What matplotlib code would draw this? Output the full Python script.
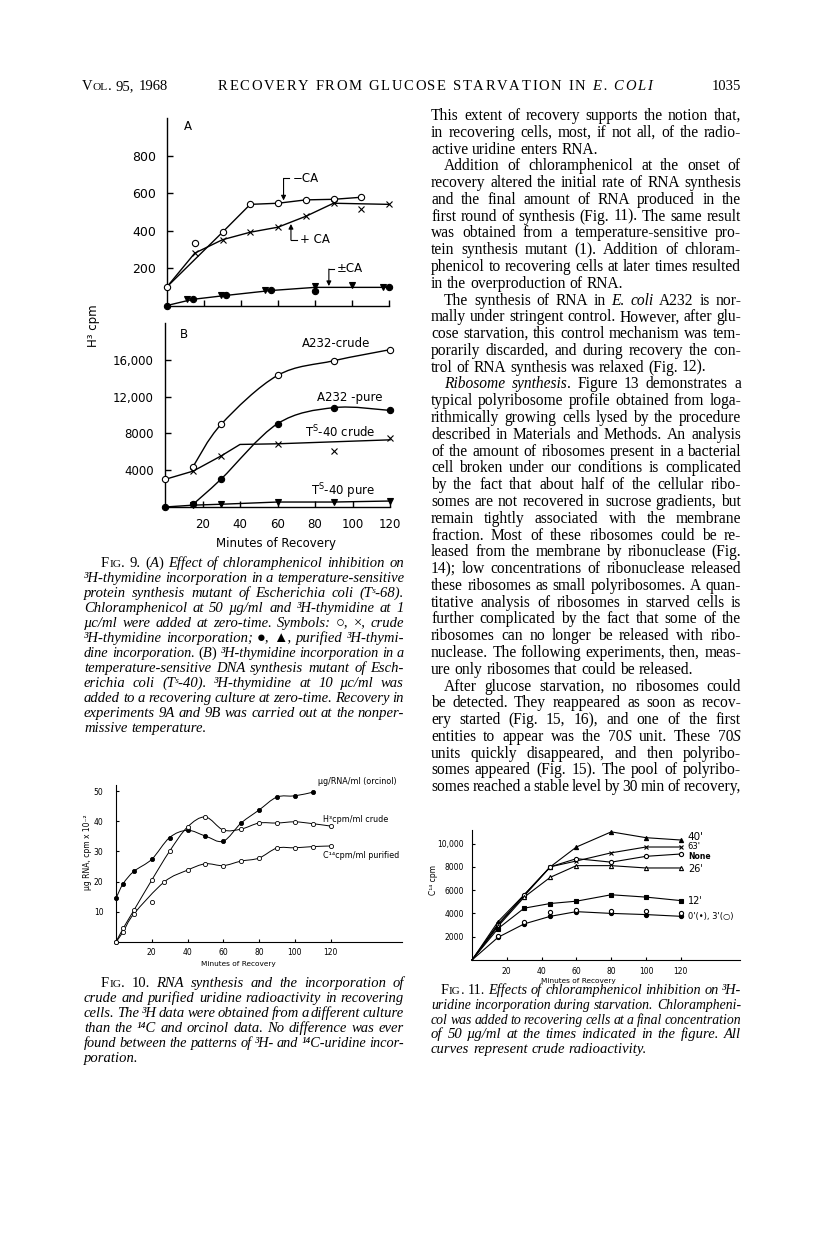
import matplotlib
matplotlib.use('Agg')
import matplotlib.pyplot as plt
from matplotlib.path import Path
from matplotlib.patches import PathPatch
import numpy as np

plt.rcParams['font.family'] = ['DejaVu Sans']
plt.rcParams['mathtext.default'] = 'regular'

# ---------------- DATA ----------------
# Fig. 9A  (H3 cpm vs minutes)
a_minus_line_x = [0, 30, 45, 60, 75, 90, 105]
a_minus_line_y = [100, 392, 541, 547, 565, 568, 579]
a_minus_pts_x = [0, 15, 30, 45, 60, 75, 90, 105]
a_minus_pts_y = [100, 333, 392, 541, 547, 565, 568, 579]
a_plus_line_x = [0, 15, 30, 45, 60, 75, 90, 120]
a_plus_line_y = [100, 280, 352, 392, 419, 477, 547, 541]
a_plus_pts_x = [15, 30, 45, 60, 75, 90, 105, 120]
a_plus_pts_y = [280, 352, 392, 419, 477, 547, 514, 541]
a_pm_line_x = [0, 14, 32, 56, 80, 120]
a_pm_line_y = [0, 33, 54, 80, 97, 97]
a_pm_circ_x = [0, 14, 32, 56, 80, 120]
a_pm_circ_y = [0, 35, 56, 83, 77, 98]
a_pm_tri_x = [11, 29, 53, 80, 100, 117]
a_pm_tri_y = [35, 56, 83, 104, 109, 98]
a_yticks = [200, 400, 600, 800]
minute_ticks = [20, 40, 60, 80, 100, 120]

# Fig. 9B
b_minutes = [0, 15, 30, 60, 90, 120]
b_a232_crude = [3000, 4400, 9000, 14300, 15900, 17100]
b_a232_pure = [0, 300, 3050, 9050, 10800, 10500]
b_ts40_crude = [3000, 3900, 5560, 6870, 6100, 7500]
b_ts40_crude_line_x = [0, 15, 30, 40, 60, 120]
b_ts40_crude_line_y = [3000, 3900, 5560, 6800, 6870, 7300]
b_ts40_pure = [0, 200, 300, 540, 540, 650]
b_yticks = [4000, 8000, 12000, 16000]
b_yticklabels = ['4000', '8000', '12,000', '16,000']

# Fig. 10
f10_orc_x = [0, 4, 10, 20, 30, 40, 50, 60, 70, 80, 90, 100, 110]
f10_orc_y = [14.5, 19.3, 23.4, 27.4, 34.6, 37.0, 35.1, 33.4, 39.4, 43.7, 48.0, 48.4, 49.6]
f10_h3_x = [0, 4, 10, 20, 30, 40, 50, 60, 70, 80, 90, 100, 110, 120]
f10_h3_y = [0, 4.5, 10.5, 20.5, 30.1, 38.1, 41.4, 37.1, 37.4, 39.4, 39.4, 39.8, 39.2, 38.4]
f10_c14_x = [0, 4, 10, 20, 27, 40, 50, 60, 70, 80, 90, 100, 110, 120]
f10_c14_y = [0, 3.4, 9.3, 13.2, 19.9, 23.8, 25.9, 25.3, 26.8, 27.8, 31.1, 31.2, 31.6, 31.8]
f10_yticks = [10, 20, 30, 40, 50]

# Fig. 11
f11_min = [0, 15, 30, 45, 60, 80, 100, 120]
f11_40 = [0, 3300, 5600, 8000, 9700, 11000, 10500, 10300]
f11_63 = [0, 3100, 5500, 8000, 8500, 9200, 9700, 9700]
f11_none = [0, 3000, 5600, 8000, 8700, 8400, 8900, 9100]
f11_26 = [0, 2900, 5400, 7100, 8100, 8100, 7900, 7900]
f11_12 = [0, 2700, 4450, 4850, 5050, 5600, 5400, 5100]
f11_0 = [0, 1950, 3100, 3750, 4150, 4000, 3900, 3750]
f11_3 = [0, 2100, 3300, 4100, 4300, 4200, 4200, 4000]
f11_yticks = [2000, 4000, 6000, 8000, 10000]
f11_yticklabels = ['2000', '4000', '6000', '8000', '10,000']

# ---------------- TEXT ----------------
body_lines = [
    "This extent of recovery supports the notion that,",
    "in recovering cells, most, if not all, of the radio-",
    "active uridine enters RNA.<",
    ">Addition of chloramphenicol at the onset of",
    "recovery altered the initial rate of RNA synthesis",
    "and the final amount of RNA produced in the",
    "first round of synthesis (Fig. 11). The same result",
    "was obtained from a temperature-sensitive pro-",
    "tein synthesis mutant (1). Addition of chloram-",
    "phenicol to recovering cells at later times resulted",
    "in the overproduction of RNA.<",
    ">The synthesis of RNA in *E. coli* A232 is nor-",
    "mally under stringent control. However, after glu-",
    "cose starvation, this control mechanism was tem-",
    "porarily discarded, and during recovery the con-",
    "trol of RNA synthesis was relaxed (Fig. 12).<",
    ">*Ribosome synthesis*. Figure 13 demonstrates a",
    "typical polyribosome profile obtained from loga-",
    "rithmically growing cells lysed by the procedure",
    "described in Materials and Methods. An analysis",
    "of the amount of ribosomes present in a bacterial",
    "cell broken under our conditions is complicated",
    "by the fact that about half of the cellular ribo-",
    "somes are not recovered in sucrose gradients, but",
    "remain tightly associated with the membrane",
    "fraction. Most of these ribosomes could be re-",
    "leased from the membrane by ribonuclease (Fig.",
    "14); low concentrations of ribonuclease released",
    "these ribosomes as small polyribosomes. A quan-",
    "titative analysis of ribosomes in starved cells is",
    "further complicated by the fact that some of the",
    "ribosomes can no longer be released with ribo-",
    "nuclease. The following experiments, then, meas-",
    "ure only ribosomes that could be released.<",
    ">After glucose starvation, no ribosomes could",
    "be detected. They reappeared as soon as recov-",
    "ery started (Fig. 15, 16), and one of the first",
    "entities to appear was the 70*S* unit. These 70*S*",
    "units quickly disappeared, and then polyribo-",
    "somes appeared (Fig. 15). The pool of polyribo-",
    "somes reached a stable level by 30 min of recovery,",
]

cap9_lines = [
    ">*F#IG#. 9. (*A*)* Effect of chloramphenicol inhibition on",
    "³H-thymidine incorporation in a temperature-sensitive",
    "protein synthesis mutant of Escherichia coli (Tˢ-68).",
    "Chloramphenicol at 50 µg/ml and ³H-thymidine at 1",
    "µc/ml were added at zero-time. Symbols: *○, ×,* crude",
    "³H-thymidine incorporation; *●, ▲,* purified ³H-thymi-",
    "dine incorporation. *(*B*)* ³H-thymidine incorporation in a",
    "temperature-sensitive DNA synthesis mutant of Esch-",
    "erichia coli (Tˢ-40). ³H-thymidine at 10 µc/ml was",
    "added to a recovering culture at zero-time. Recovery in",
    "experiments 9A and 9B was carried out at the nonper-",
    "missive temperature.<",
]
cap10_lines = [
    ">*F#IG#. 10.* RNA synthesis and the incorporation of",
    "crude and purified uridine radioactivity in recovering",
    "cells. The ³H data were obtained from a different culture",
    "than the ¹⁴C and orcinol data. No difference was ever",
    "found between the patterns of ³H- and ¹⁴C-uridine incor-",
    "poration.<",
]
cap11_lines = [
    ">*F#IG#. 11.* Effects of chloramphenicol inhibition on ³H-",
    "uridine incorporation during starvation. Chlorampheni-",
    "col was added to recovering cells at a final concentration",
    "of 50 µg/ml at the times indicated in the figure. All",
    "curves represent crude radioactivity.<",
]

# ---------------- SETUP ----------------
W, H = 816, 1260
fig = plt.figure(figsize=(8.16, 12.6), dpi=100)
fig.patch.set_facecolor('white')
renderer = fig.canvas.get_renderer()
SERIF = ['Liberation Serif', 'DejaVu Serif']
SANS = ['DejaVu Sans']


def fy(py):
    return 1 - py / H


def add_ax(x0, y0, x1, y1):
    return fig.add_axes([x0 / W, 1 - y1 / H, (x1 - x0) / W, (y1 - y0) / H])


def parse_line(line, italic0):
    words, cur, buf = [], [], ''
    it, sm = italic0, False
    for ch in line:
        if ch in '*#':
            if buf:
                cur.append((buf, it, sm)); buf = ''
            if ch == '*':
                it = not it
            else:
                sm = not sm
        elif ch == ' ':
            if buf:
                cur.append((buf, it, sm)); buf = ''
            if cur:
                words.append(cur); cur = []
        else:
            buf += ch
    if buf:
        cur.append((buf, it, sm))
    if cur:
        words.append(cur)
    return words


def pw(txt, size, it):
    t = fig.text(0, 0, txt, fontsize=size, family=SERIF, style='italic' if it else 'normal')
    w = t.get_window_extent(renderer).width
    t.remove()
    return w


def draw_line(line, x0, x1, y, size, italic0=False, indent=0.0):
    justify = True
    if line.startswith('>'):
        line = line[1:]
    else:
        indent = 0.0
    if line.endswith('<'):
        line = line[:-1]
        justify = False
    words = parse_line(line, italic0)
    s0 = size
    for _ in range(12):
        widths = [[pw(t, s0 * (0.78 if sm else 1), it) for (t, it, sm) in w] for w in words]
        total = sum(sum(ws) for ws in widths)
        n = len(words)
        em = s0 * 100 / 72
        if justify and n > 1:
            gap = (x1 - x0 - indent - total) / (n - 1)
            if gap < 0.16 * em:
                s0 *= 0.98
                continue
        else:
            gap = 0.25 * em
        break
    x = x0 + indent
    for w, ws in zip(words, widths):
        for (t, it, sm), wv in zip(w, ws):
            fig.text(x / W, fy(y + 4), t, fontsize=s0 * (0.78 if sm else 1), family=SERIF,
                     style='italic' if it else 'normal', va='baseline', ha='left')
            x += wv
        x += gap


def draw_tracked(segments, x0, x1, y, size):
    """Letter-spaced line: segments = [(text, italic), ...] spread from x0 to x1."""
    chars = []
    sp = pw('a a', size, False) - pw('aa', size, False)
    for txt, it in segments:
        for ch in txt:
            chars.append((ch, it, sp if ch == ' ' else pw(ch, size, it)))
    total = sum(c[2] for c in chars)
    extra = (x1 - x0 - total) / (len(chars) - 1)
    x = x0
    for ch, it, wv in chars:
        if ch != ' ':
            fig.text(x / W, fy(y + 4), ch, fontsize=size, family=SERIF,
                     style='italic' if it else 'normal', va='baseline', ha='left')
        x += wv + extra


def text_px(x, y, s, size, ha='left', va='center', rot=0, family=None, weight='normal'):
    fig.text(x / W, fy(y), s, fontsize=size, ha=ha, va=va, rotation=rot,
             family=family or SANS, weight=weight)


def style_ax(ax, lw=1.0, tl=4, labsize=8.5, pad=8):
    for s in ['top', 'right']:
        ax.spines[s].set_visible(False)
    for s in ['left', 'bottom']:
        ax.spines[s].set_linewidth(lw)
    ax.patch.set_alpha(0)
    ax.tick_params(direction='in', length=tl, width=lw, labelsize=labsize, pad=pad)


def smooth(ax, x, y, lw=1.0):
    x = np.asarray(x, float); y = np.asarray(y, float)
    n = len(x)
    verts = [(x[0], y[0])]; codes = [Path.MOVETO]
    for i in range(n - 1):
        p0 = np.array([x[i - 1], y[i - 1]]) if i > 0 else np.array([x[i], y[i]])
        p1 = np.array([x[i], y[i]]); p2 = np.array([x[i + 1], y[i + 1]])
        p3 = np.array([x[i + 2], y[i + 2]]) if i + 2 < n else p2
        c1 = p1 + (p2 - p0) / 6.0
        c2 = p2 - (p3 - p1) / 6.0
        verts += [tuple(c1), tuple(c2), tuple(p2)]
        codes += [Path.CURVE4] * 3
    ax.add_patch(PathPatch(Path(verts, codes), fill=False, lw=lw, ec='k', clip_on=False))


def pts(ax, x, y, marker, filled, ms=4.5, mew=0.8):
    ax.plot(x, y, ls='none', marker=marker, ms=ms, mew=mew, mec='k',
            mfc='k' if filled else 'white', clip_on=False, zorder=4)


def line(ax, x, y, lw=1.0):
    ax.plot(x, y, color='k', lw=lw, clip_on=False, zorder=2)

# ---------------- HEADER ----------------
draw_line("V#OL#. 95, 1968", 82, 168, 86, 10.5)
draw_tracked([("RECOVERY FROM GLUCOSE STARVATION IN ", False), ("E. COLI", True)], 218, 652, 86, 10.5)
fig.text(741 / W, fy(90), "1035", fontsize=10.5, family=SERIF, ha='right', va='baseline')

# ---------------- FIG 9A ----------------
axA = add_ax(167, 118, 389, 305.5)
style_ax(axA, labsize=9)
axA.set_xlim(0, 120); axA.set_ylim(0, 1003)
axA.set_xticks(minute_ticks); axA.set_xticklabels([])
axA.set_yticks(a_yticks); axA.set_yticklabels([str(v) for v in a_yticks])
line(axA, a_minus_line_x, a_minus_line_y)
line(axA, a_plus_line_x, a_plus_line_y)
line(axA, a_pm_line_x, a_pm_line_y)
pts(axA, a_minus_pts_x, a_minus_pts_y, 'o', False)
pts(axA, a_plus_pts_x, a_plus_pts_y, 'x', False, ms=4)
pts(axA, a_pm_circ_x, a_pm_circ_y, 'o', True)
pts(axA, a_pm_tri_x, a_pm_tri_y, 'v', True)
arw = dict(arrowstyle='-|>', color='k', lw=0.8, mutation_scale=7, shrinkA=0, shrinkB=0)
axA.annotate('', xy=(63, 562), xytext=(63, 680), arrowprops=arw)
axA.plot([63, 66], [680, 680], color='k', lw=0.8)
axA.text(68, 680, '−CA', fontsize=8.5, va='center')
axA.annotate('', xy=(67, 436), xytext=(67, 350), arrowprops=arw)
axA.plot([67, 70], [350, 350], color='k', lw=0.8)
axA.text(72, 355, '+ CA', fontsize=8.5, va='center')
axA.annotate('', xy=(87.5, 104), xytext=(87.5, 195), arrowprops=arw)
axA.plot([87.5, 90.5], [195, 195], color='k', lw=0.8)
axA.text(92, 200, '±CA', fontsize=8.5, va='center')
axA.text(11.4, 955, 'A', fontsize=8.5, va='center', ha='center')

# ---------------- FIG 9B ----------------
axB = add_ax(165, 323, 390, 507)
style_ax(axB)
axB.set_xlim(0, 120); axB.set_ylim(0, 20000)
axB.set_xticks(minute_ticks); axB.set_xticklabels([str(v) for v in minute_ticks])
axB.set_yticks(b_yticks); axB.set_yticklabels(b_yticklabels)
smooth(axB, b_minutes[1:], b_a232_crude[1:])
smooth(axB, b_minutes[1:], b_a232_pure[1:])
line(axB, b_ts40_crude_line_x, b_ts40_crude_line_y)
line(axB, b_minutes, b_ts40_pure)
pts(axB, b_minutes, b_a232_crude, 'o', False)
pts(axB, b_minutes, b_a232_pure, 'o', True)
pts(axB, b_minutes[1:], b_ts40_crude[1:], 'x', False, ms=4)
pts(axB, b_minutes[1:], b_ts40_pure[1:], 'v', True, ms=4)
text_px(184, 335, 'B', 8.5, ha='center')
text_px(336, 344, 'A232-crude', 8.5, ha='center')
text_px(350, 397, 'A232 -pure', 8.5, ha='center')
text_px(340, 432, 'T$^{S}$-40 crude', 8.5, ha='center')
text_px(343, 491, 'T$^{S}$-40 pure', 8.5, ha='center')
text_px(93, 326, 'H³ cpm', 8.5, ha='center', rot=90)
text_px(276, 543, 'Minutes of Recovery', 8.5, ha='center')

for i, ln in enumerate(cap9_lines):
    draw_line(ln, 84, 404, 563.3 + 15.0 * i, 10.5, italic0=True, indent=17)

# ---------------- FIG 10 ----------------
ax10 = add_ax(116, 785, 402, 942)
style_ax(ax10, lw=0.8, tl=2.5, labsize=5.5, pad=4)
ax10.tick_params(axis='y', pad=9)
ax10.set_xlim(0, 160); ax10.set_ylim(0, 52)
ax10.set_xticks(minute_ticks); ax10.set_xticklabels([str(v) for v in minute_ticks])
ax10.set_yticks(f10_yticks); ax10.set_yticklabels([str(v) for v in f10_yticks])
smooth(ax10, f10_orc_x, f10_orc_y, lw=0.7)
smooth(ax10, f10_h3_x, f10_h3_y, lw=0.7)
c14_line_x = [v for v in f10_c14_x if v != 20]
c14_line_y = [v for xx, v in zip(f10_c14_x, f10_c14_y) if xx != 20]
smooth(ax10, c14_line_x, c14_line_y, lw=0.7)
pts(ax10, f10_orc_x, f10_orc_y, 'o', True, ms=3, mew=0.6)
pts(ax10, f10_h3_x, f10_h3_y, 'o', False, ms=3, mew=0.6)
pts(ax10, f10_c14_x, f10_c14_y, 'o', False, ms=3, mew=0.6)
text_px(318, 781, 'µg/RNA/ml (orcinol)', 5.8)
text_px(323, 819, 'H³cpm/ml crude', 5.8)
text_px(323, 855, 'C¹⁴cpm/ml purified', 5.8)
text_px(88, 852, 'µg RNA, cpm x 10⁻²', 5.5, ha='center', rot=90)
text_px(238, 964, 'Minutes of Recovery', 5.3, ha='center')

for i, ln in enumerate(cap10_lines):
    draw_line(ln, 84, 404, 983.3 + 15.0 * i, 10.5, italic0=True, indent=17)

# ---------------- FIG 11 ----------------
ax11 = add_ax(472, 830, 740, 960)
style_ax(ax11, lw=0.8, tl=2.5, labsize=5.5, pad=5)
ax11.tick_params(axis='y', pad=6)
ax11.set_xlim(0, 154); ax11.set_ylim(0, 11160)
ax11.set_xticks(minute_ticks); ax11.set_xticklabels([str(v) for v in minute_ticks])
ax11.set_yticks(f11_yticks); ax11.set_yticklabels(f11_yticklabels)
for ser in [f11_40, f11_63, f11_none, f11_26, f11_12, f11_0]:
    line(ax11, f11_min, ser, lw=0.8)
pts(ax11, f11_min[1:], f11_40[1:], '^', True, ms=3)
pts(ax11, f11_min[1:], f11_63[1:], 'x', False, ms=3)
pts(ax11, f11_min[1:], f11_none[1:], 'o', False, ms=3)
pts(ax11, f11_min[1:], f11_26[1:], '^', False, ms=3)
pts(ax11, f11_min[1:], f11_12[1:], 's', True, ms=3)
pts(ax11, f11_min[1:], f11_0[1:], 'o', True, ms=3)
pts(ax11, f11_min[1:], f11_3[1:], 'o', False, ms=3)
ax11.text(124, f11_40[-1] + 250, "40'", fontsize=7.5, va='center')
ax11.text(124, f11_63[-1] + 50, "63'", fontsize=6, va='center')
ax11.text(124, f11_none[-1] - 250, "None", fontsize=5.5, va='center', weight='bold')
ax11.text(124, f11_26[-1] - 50, "26'", fontsize=7, va='center')
ax11.text(124, f11_12[-1], "12'", fontsize=7, va='center')
ax11.text(124, f11_0[-1], "0'(•), 3'(○)", fontsize=6, va='center')
text_px(434, 880, 'C¹⁴ cpm', 5.5, ha='center', rot=90)
text_px(578, 981, 'Minutes of Recovery', 5.3, ha='center')

for i, ln in enumerate(cap11_lines):
    draw_line(ln, 431, 741, 990 + 14.8 * i, 10.5, italic0=True, indent=10)

# ---------------- BODY TEXT ----------------
for i, ln in enumerate(body_lines):
    draw_line(ln, 431, 741, 116 + 16.78 * i, 11.2, italic0=False, indent=13)

fig.savefig('out.png', dpi=100, facecolor='white')
